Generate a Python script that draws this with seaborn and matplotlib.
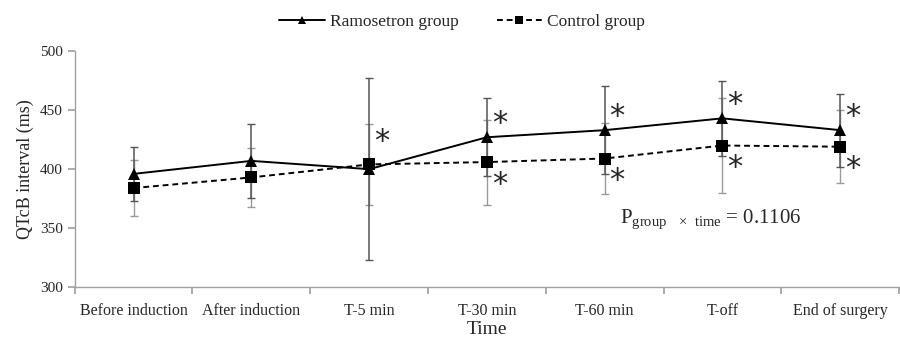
import numpy as np
import pandas as pd
import seaborn as sns
import matplotlib.pyplot as plt

times = ['Before induction', 'After induction', 'T-5 min', 'T-30 min',
         'T-60 min', 'T-off', 'End of surgery']
ramo_mean = [396, 407, 400, 427, 433, 443, 433]
ramo_sd = [23, 31, 77, 33, 37, 32, 31]
ctrl_mean = [384, 393, 404, 406, 409, 420, 419]
ctrl_sd = [24, 25, 34, 36, 30, 40, 31]
ramo_star = [False, False, True, True, True, True, True]
ctrl_star = [False, False, False, True, True, True, True]

sns.set_theme(style='white')
plt.rcParams['font.family'] = ['Liberation Serif', 'DejaVu Serif']
plt.rcParams['mathtext.fontset'] = 'custom'
plt.rcParams['mathtext.rm'] = 'Liberation Serif'

df = pd.DataFrame({
    'x': list(range(len(times))) * 2,
    'QTcB': ramo_mean + ctrl_mean,
    'group': ['Ramosetron group'] * len(times) + ['Control group'] * len(times),
})

fig, ax = plt.subplots(figsize=(9, 3.4), dpi=100)
fig.subplots_adjust(left=0.083, right=0.999, bottom=0.155, top=0.85)

xs = np.arange(len(times))
# error bars first so the lines sit on top
ax.errorbar(xs, ctrl_mean, yerr=ctrl_sd, fmt='none', ecolor='#9a9a9a',
            elinewidth=1, capsize=3, linestyle=':', zorder=1)
ax.errorbar(xs, ramo_mean, yerr=ramo_sd, fmt='none', ecolor='#555555',
            elinewidth=1.1, capsize=3, zorder=1)

sns.lineplot(data=df, x='x', y='QTcB', hue='group', style='group',
             palette={'Ramosetron group': 'black', 'Control group': 'black'},
             markers={'Ramosetron group': '^', 'Control group': 's'},
             dashes={'Ramosetron group': '', 'Control group': (3, 2)},
             markersize=8, linewidth=1.4, markeredgewidth=0, ax=ax, zorder=3)

for i in range(len(times)):
    if ramo_star[i]:
        dy = 20 if i == 2 else 10
        ax.annotate('*', (xs[i], ramo_mean[i]), xytext=(9, dy),
                    textcoords='offset points', fontsize=22,
                    family='DejaVu Sans', ha='center', va='center')
    if ctrl_star[i]:
        ax.annotate('*', (xs[i], ctrl_mean[i]), xytext=(9, -16),
                    textcoords='offset points', fontsize=22,
                    family='DejaVu Sans', ha='center', va='center')

ax.text(0.662, 0.27, r'$\mathrm{P}_{\mathrm{group\ \ \times\ time}}$ = 0.1106',
        transform=ax.transAxes, fontsize=15)

ax.set_xlim(-0.5, len(times) - 0.5)
ax.set_ylim(300, 500)
ax.set_yticks([300, 350, 400, 450, 500])
ax.set_xticks(np.arange(len(times) + 1) - 0.5)
ax.set_xticklabels([])
ax.set_xticks(xs, minor=True)
ax.set_xticklabels(times, minor=True, fontsize=11.5)
ax.tick_params(axis='x', which='minor', length=0, pad=11)
ax.tick_params(axis='x', which='major', length=5, color='#a0a0a0', direction='out', bottom=True)
ax.tick_params(axis='y', length=5, color='#a0a0a0', direction='out', left=True, labelsize=11)
for s in ['top', 'right']:
    ax.spines[s].set_visible(False)
for s in ['left', 'bottom']:
    ax.spines[s].set_color('#a0a0a0')
    ax.spines[s].set_linewidth(1)

ax.set_xlabel('Time', fontsize=14, labelpad=2)
ax.set_ylabel('QTcB interval (ms)', fontsize=13)

ax.legend(loc='lower center', bbox_to_anchor=(0.47, 1.0), ncol=2, frameon=False,
          fontsize=12.5, handlelength=2.6, handletextpad=0.3, columnspacing=2.2,
          borderaxespad=0.8, markerscale=0.8)

fig.savefig('out.png', dpi=100)
